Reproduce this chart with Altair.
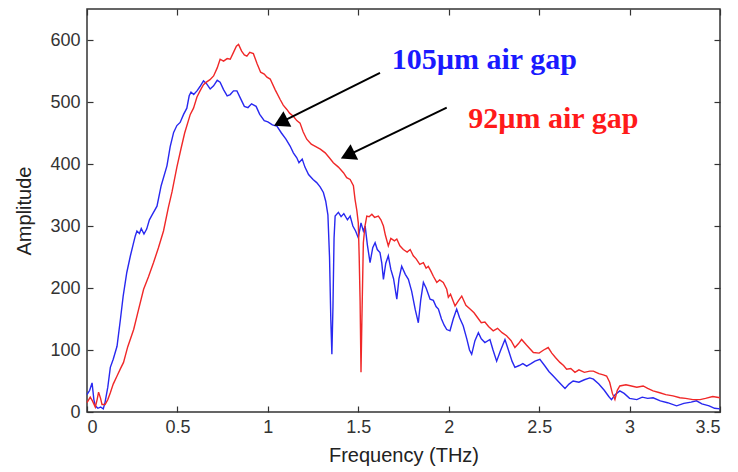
import altair as alt
import pandas as pd

# ---- data ----
blue_x = [0.000, 0.015, 0.028, 0.038, 0.046, 0.060, 0.075, 0.090, 0.100, 0.115,
          0.129, 0.145, 0.166, 0.185, 0.200, 0.220, 0.240, 0.255, 0.267, 0.276,
          0.290, 0.300, 0.315, 0.330, 0.345, 0.360, 0.387, 0.410, 0.442, 0.460,
          0.479, 0.497, 0.515, 0.534, 0.552, 0.565, 0.575, 0.590, 0.608, 0.625,
          0.644, 0.660, 0.681, 0.700, 0.720, 0.736, 0.755, 0.775, 0.792, 0.810,
          0.829, 0.850, 0.870, 0.890, 0.910, 0.935, 0.955, 0.980, 1.000, 1.025,
          1.050, 1.075, 1.100, 1.123, 1.141, 1.160, 1.172, 1.190, 1.205, 1.225,
          1.250, 1.270, 1.289, 1.307, 1.320, 1.332, 1.341, 1.348, 1.354, 1.360,
          1.366, 1.372, 1.390, 1.405, 1.420, 1.440, 1.455, 1.470, 1.485, 1.500,
          1.515, 1.528, 1.538, 1.550, 1.565, 1.580, 1.593, 1.605, 1.620, 1.630,
          1.639, 1.652, 1.666, 1.680, 1.695, 1.713, 1.725, 1.740, 1.760, 1.777,
          1.795, 1.815, 1.832, 1.845, 1.860, 1.875, 1.897, 1.915, 1.930, 1.943,
          1.960, 1.975, 1.989, 2.007, 2.025, 2.044, 2.060, 2.080, 2.100, 2.115,
          2.127, 2.145, 2.164, 2.180, 2.200, 2.228, 2.245, 2.265, 2.285, 2.311,
          2.330, 2.350, 2.366, 2.390, 2.410, 2.431, 2.455, 2.477, 2.504, 2.530,
          2.555, 2.578, 2.610, 2.643, 2.665, 2.688, 2.720, 2.750, 2.780, 2.800,
          2.830, 2.860, 2.885, 2.900, 2.920, 2.946, 2.970, 3.000, 3.040, 3.070,
          3.100, 3.130, 3.170, 3.210, 3.260, 3.300, 3.340, 3.370, 3.400, 3.440,
          3.470, 3.500]
blue_y = [28, 35, 47, 20, 10, 6, 8, 5, 16, 40,
          72, 85, 106, 150, 187, 225, 252, 270, 284, 292,
          288, 296, 287, 295, 310, 318, 332, 365, 397, 428,
          451, 462, 467, 480, 490, 510, 516, 512, 518, 525,
          534, 530, 521, 526, 535, 532, 520, 510, 512, 518,
          518, 505, 493, 491, 497, 493, 480, 470, 468, 463,
          461, 450, 440, 429, 418, 410, 402, 408, 395, 383,
          375, 370, 363, 354, 340, 318, 250, 150, 93, 170,
          280, 316, 322, 315, 320, 310, 316, 300, 292, 281,
          305, 292, 300, 270, 241, 265, 273, 262, 257, 240,
          214, 240, 252, 230, 215, 182, 215, 235, 222, 214,
          195, 165, 144, 180, 209, 200, 182, 180, 170, 166,
          150, 140, 133, 131, 150, 166, 152, 139, 118, 100,
          93, 115, 128, 118, 112, 117, 100, 82, 98, 117,
          100, 82, 72, 75, 78, 74, 78, 82, 85, 75,
          65, 58, 48, 38, 45, 50, 48, 52, 55, 53,
          45, 35, 25, 20, 28, 34, 30, 22, 20, 24,
          22, 23, 18, 15, 10, 14, 16, 18, 13, 10,
          6, 5]

red_x = [0.000, 0.018, 0.030, 0.046, 0.056, 0.064, 0.075, 0.083, 0.100, 0.115,
         0.129, 0.145, 0.166, 0.185, 0.202, 0.225, 0.258, 0.285, 0.313, 0.340,
         0.368, 0.395, 0.423, 0.450, 0.470, 0.497, 0.520, 0.540, 0.571, 0.589,
         0.608, 0.625, 0.644, 0.660, 0.680, 0.700, 0.720, 0.736, 0.755, 0.775,
         0.792, 0.810, 0.826, 0.838, 0.855, 0.870, 0.884, 0.900, 0.920, 0.940,
         0.960, 0.980, 0.995, 1.013, 1.040, 1.068, 1.085, 1.105, 1.120, 1.141,
         1.160, 1.178, 1.195, 1.215, 1.240, 1.265, 1.290, 1.317, 1.340, 1.362,
         1.390, 1.418, 1.436, 1.455, 1.473, 1.482, 1.492, 1.500, 1.505, 1.510,
         1.515, 1.520, 1.528, 1.537, 1.547, 1.560, 1.575, 1.590, 1.611, 1.625,
         1.639, 1.650, 1.666, 1.680, 1.700, 1.713, 1.730, 1.749, 1.770, 1.787,
         1.804, 1.820, 1.840, 1.860, 1.875, 1.887, 1.900, 1.915, 1.934, 1.950,
         1.970, 1.989, 1.998, 2.010, 2.035, 2.055, 2.072, 2.095, 2.118, 2.140,
         2.160, 2.180, 2.200, 2.220, 2.246, 2.270, 2.295, 2.320, 2.345, 2.366,
         2.385, 2.403, 2.430, 2.468, 2.500, 2.525, 2.550, 2.570, 2.590, 2.615,
         2.635, 2.652, 2.675, 2.698, 2.720, 2.750, 2.780, 2.800, 2.830, 2.855,
         2.873, 2.890, 2.905, 2.919, 2.932, 2.946, 2.980, 3.010, 3.040, 3.075,
         3.100, 3.130, 3.167, 3.200, 3.240, 3.278, 3.310, 3.350, 3.390, 3.420,
         3.460, 3.500]
red_y = [15, 24, 18, 8, 20, 32, 22, 12, 12, 20,
         31, 45, 58, 70, 80, 105, 133, 165, 198, 218,
         241, 265, 292, 330, 355, 395, 425, 450, 480, 490,
         508, 518, 528, 532, 536, 542, 555, 569, 566, 570,
         569, 580, 590, 593, 582, 576, 574, 580, 578, 562,
         548, 545, 540, 537, 520, 504, 495, 488, 482, 477,
         470, 466, 452, 440, 432, 428, 424, 418, 410, 402,
         395, 386, 378, 375, 365, 343, 325, 305, 250, 180,
         64, 150, 273, 300, 316, 315, 319, 314, 316, 310,
         300, 285, 268, 280, 276, 279, 268, 262, 258, 262,
         252, 247, 238, 241, 232, 235, 228, 219, 209, 213,
         209, 198, 185, 190, 171, 180, 187, 172, 166, 160,
         152, 144, 145, 138, 131, 135, 128, 123, 115, 104,
         110, 117, 108, 96, 95, 100, 104, 95, 88, 80,
         75, 69, 70, 64, 68, 64, 66, 66, 62, 60,
         58, 48, 30, 20, 35, 42, 44, 42, 40, 42,
         38, 34, 31, 28, 26, 23, 22, 20, 20, 22,
         25, 23]

x_ticks = [0, 0.5, 1, 1.5, 2, 2.5, 3, 3.5]
y_ticks = [0, 100, 200, 300, 400, 500, 600]

label_text = ["105µm air gap", "92µm air gap"]
label_x = [1.685, 2.108]
label_y = [553, 458]
label_color = ["#1a1aff", "#ff1a1a"]

arrow_x = [1.62, 1.989]
arrow_y = [547, 491]
arrow_x2 = [1.071, 1.441]
arrow_y2 = [467, 414]
arrow_angle = [243, 244]

# ---- tables ----
blue_df = pd.DataFrame({"f": blue_x, "amp": blue_y})
red_df = pd.DataFrame({"f": red_x, "amp": red_y})
lab_df = pd.DataFrame({"f": label_x, "amp": label_y, "txt": label_text, "col": label_color})
arr_df = pd.DataFrame({"f": arrow_x, "amp": arrow_y, "f2": arrow_x2, "amp2": arrow_y2,
                       "ang": arrow_angle})

xs = alt.Scale(domain=[0, 3.5], nice=False, zero=False)
ys = alt.Scale(domain=[0, 650], nice=False, zero=False)

FONT = "Liberation Sans"
common = dict(domain=False, grid=False, tickSize=6, offset=-6,
              tickColor="#333333", tickWidth=1.2)

x_bottom = alt.Axis(orient="bottom", values=x_ticks, format=".1~f",
                    labelFont=FONT, labelFontSize=18, labelColor="#333333",
                    labelPadding=6, title="Frequency (THz)", titleFont=FONT,
                    titleFontSize=20, titleFontWeight="normal", titleColor="#222222",
                    titlePadding=9, **common)
y_left = alt.Axis(orient="left", values=y_ticks, labelFont=FONT, labelFontSize=18,
                  labelColor="#333333", labelPadding=7, title="Amplitude",
                  titleFont=FONT, titleFontSize=20, titleFontWeight="normal",
                  titleColor="#222222", titlePadding=15, **common)
x_top = alt.Axis(orient="top", values=x_ticks, labels=False, title=None, **common)
y_right = alt.Axis(orient="right", values=y_ticks, labels=False, title=None, **common)

blue = alt.Chart(blue_df).mark_line(color="#2828f0", strokeWidth=1.4).encode(
    x=alt.X("f:Q", scale=xs, axis=x_bottom),
    y=alt.Y("amp:Q", scale=ys, axis=y_left),
)
red = alt.Chart(red_df).mark_line(color="#f02828", strokeWidth=1.4).encode(
    x=alt.X("f:Q", scale=xs, axis=None),
    y=alt.Y("amp:Q", scale=ys, axis=None),
)
arrows = alt.Chart(arr_df).mark_rule(color="black", strokeWidth=2).encode(
    x=alt.X("f:Q", scale=xs, axis=x_top),
    y=alt.Y("amp:Q", scale=ys, axis=y_right),
    x2="f2:Q",
    y2="amp2:Q",
)
heads = alt.Chart(arr_df).mark_point(shape="triangle-up", filled=True, color="black",
                                     size=300, opacity=1).encode(
    x=alt.X("f2:Q", scale=xs, axis=None),
    y=alt.Y("amp2:Q", scale=ys, axis=None),
    angle=alt.Angle("ang:Q", scale=None),
)
texts = alt.Chart(lab_df).mark_text(font="Liberation Serif", fontWeight="bold",
                                    fontSize=30, align="left",
                                    baseline="alphabetic").encode(
    x=alt.X("f:Q", scale=xs, axis=None),
    y=alt.Y("amp:Q", scale=ys, axis=None),
    text="txt:N",
    color=alt.Color("col:N", scale=None),
)

chart = alt.layer(blue, red, arrows, heads, texts).resolve_axis(
    x="independent", y="independent"
).properties(
    width=633, height=403,
    autosize=alt.AutoSizeParams(type="none"),
    padding={"left": 79, "top": 1, "right": 10, "bottom": 58},
    background="white",
).configure_view(stroke="#333333", strokeWidth=1.5)

chart.save("out.html", embed_options={"renderer": "svg", "actions": False})
